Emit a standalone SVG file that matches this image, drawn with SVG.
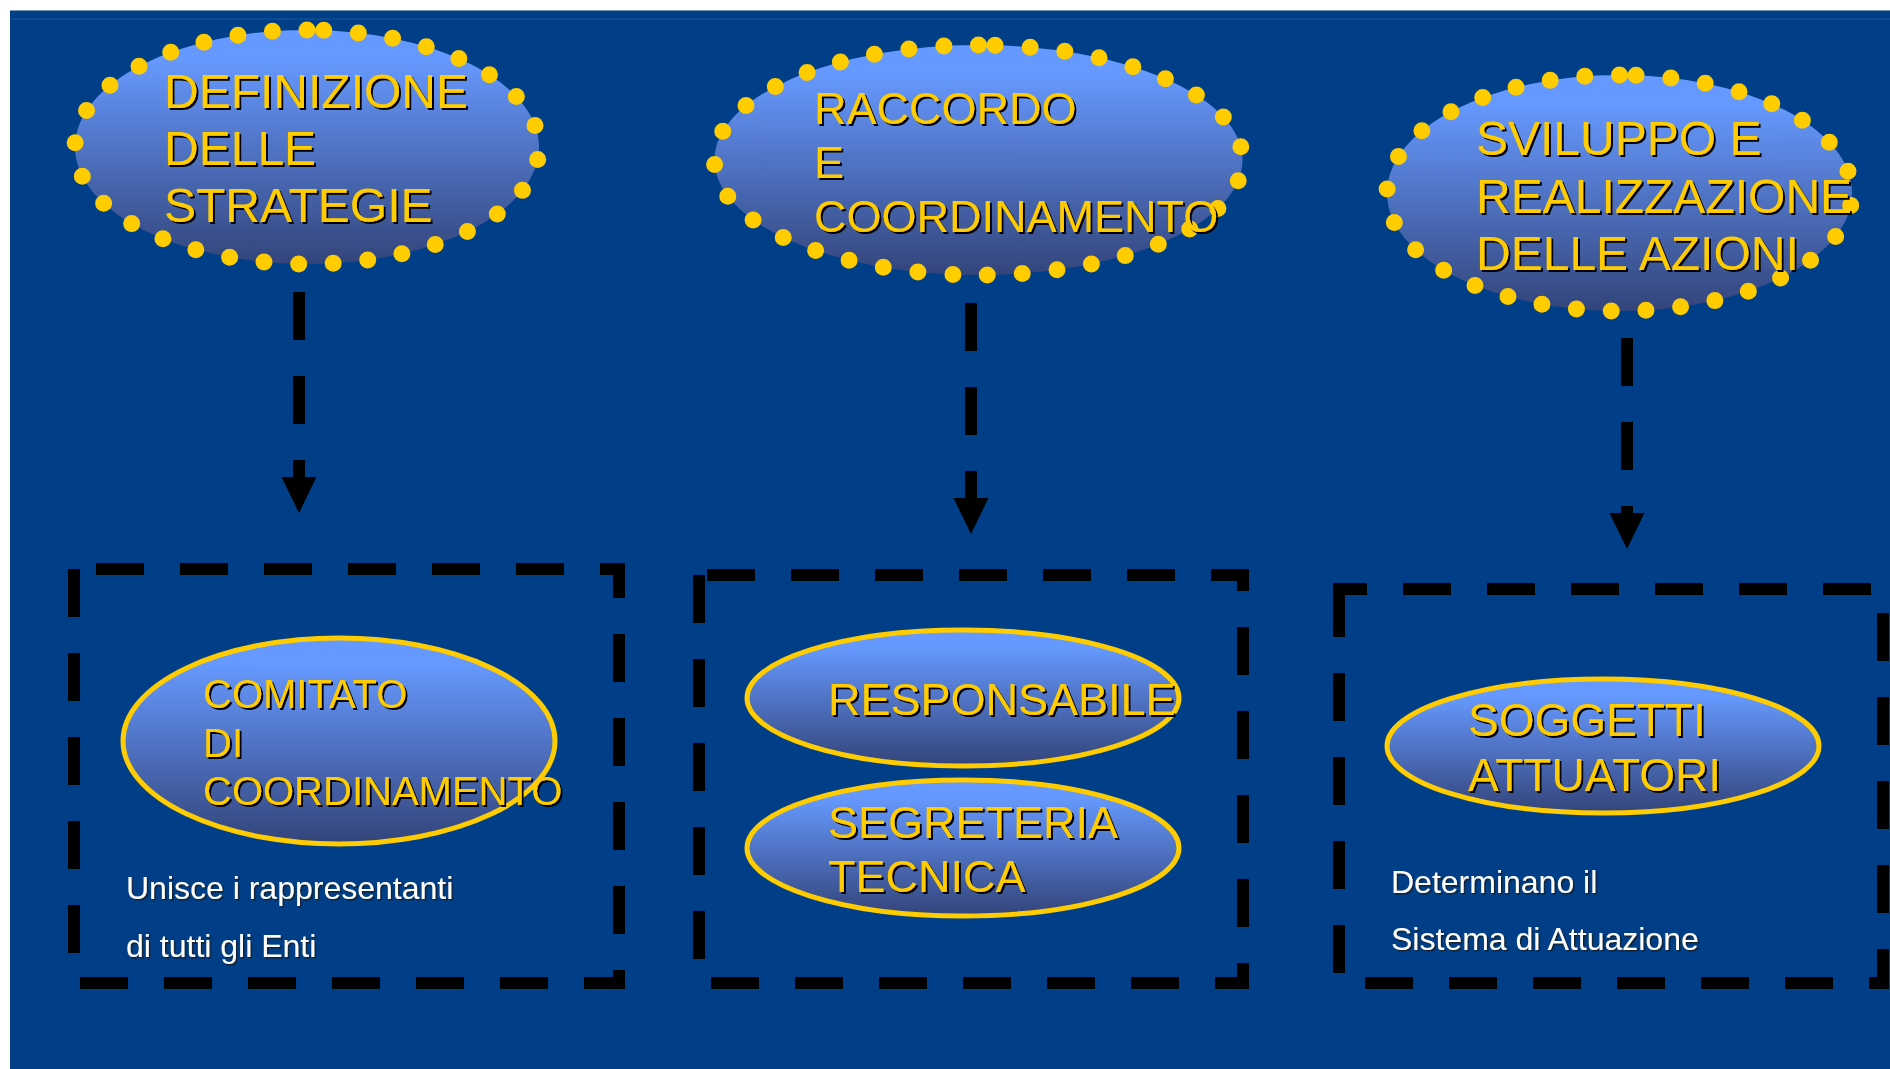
<svg xmlns="http://www.w3.org/2000/svg" width="1890" height="1069" viewBox="0 0 1890 1069">
<defs>
<linearGradient id="g" x1="0" y1="0" x2="0" y2="1">
<stop offset="0" stop-color="#6699FF"/>
<stop offset="0.12" stop-color="#6699FF"/>
<stop offset="1" stop-color="#33447A"/>
</linearGradient>
<filter id="sh" x="-5%" y="-5%" width="110%" height="120%">
<feDropShadow dx="2" dy="2" stdDeviation="0" flood-color="#000" flood-opacity="1"/>
</filter>
<filter id="shw" x="-5%" y="-5%" width="110%" height="130%">
<feDropShadow dx="1.5" dy="1.5" stdDeviation="0.3" flood-color="#1a1a1a" flood-opacity="0.8"/>
</filter>
</defs>
<style>
.bg{fill:#003F87}
.fill{fill:url(#g)}
.dots{fill:none;stroke:#FFCC00;stroke-width:17;stroke-linecap:round}
.ring{fill:url(#g);stroke:#FFCC00;stroke-width:5}
.box{fill:none;stroke:#000;stroke-width:12;stroke-dasharray:48 36;stroke-linejoin:miter}
.conn{fill:none;stroke:#000;stroke-width:12;stroke-dasharray:48 36}
.head{fill:#000}
.yt{font-family:"Liberation Sans",Arial,sans-serif;fill:#FFCC00;filter:url(#sh)}
.wt{font-family:"Liberation Sans",Arial,sans-serif;fill:#FFFFFF;font-size:32px;filter:url(#shw)}
</style>
<rect x="0" y="0" width="1890" height="1069" fill="#FFFFFF"/>
<rect class="bg" x="10" y="10" width="1880" height="1059"/>
<line x1="10" y1="10.5" x2="1890" y2="10.5" stroke="#7C97B6" stroke-width="1"/>
<rect x="10" y="18" width="1880" height="2" fill="#0C4A94"/>

<g id="connectors">
<line class="conn" x1="299" y1="292" x2="299" y2="478"/>
<path class="head" d="M281.5,477 L316.5,477 L299,513 Z"/>
<line class="conn" x1="971" y1="303" x2="971" y2="499"/>
<path class="head" d="M953.5,498 L988.5,498 L971,534 Z"/>
<line class="conn" x1="1627" y1="338" x2="1627" y2="514"/>
<path class="head" d="M1609.5,513 L1644.5,513 L1627,549 Z"/>
</g>

<g id="box-comitato">
<path class="box" d="M74,569 V983 H619 V569 Z"/>
</g>
<g id="box-responsabile">
<path class="box" d="M699,575 V983 H1243 V575 Z"/>
</g>
<g id="box-soggetti">
<path class="box" d="M1339,589 V983 H1883 V589 Z"/>
</g>

<g id="node-definizione">
<ellipse class="fill" cx="307" cy="147" rx="232" ry="117"/>
<path class="dots" stroke-dasharray="0 34.66" d="M307,30 A232,117 0 1,0 307,264 A232,117 0 1,0 307,30"/>
<text class="yt" font-size="48">
<tspan x="164" y="108">DEFINIZIONE</tspan>
<tspan x="164" y="165">DELLE</tspan>
<tspan x="164" y="222">STRATEGIE</tspan>
</text>
</g>

<g id="node-raccordo">
<ellipse class="fill" cx="978.5" cy="160" rx="264" ry="115"/>
<path class="dots" stroke-dasharray="0 34.86" d="M978.5,45 A264,115 0 1,0 978.5,275 A264,115 0 1,0 978.5,45"/>
<text class="yt" font-size="45">
<tspan x="814" y="124">RACCORDO</tspan>
<tspan x="814" y="178">E</tspan>
<tspan x="814" y="232">COORDINAMENTO</tspan>
</text>
</g>

<g id="node-sviluppo">
<ellipse class="fill" cx="1619.5" cy="193" rx="232.5" ry="118"/>
<path class="dots" stroke-dasharray="0 34.8" d="M1619.5,75 A232.5,118 0 1,0 1619.5,311 A232.5,118 0 1,0 1619.5,75"/>
<text class="yt" font-size="48">
<tspan x="1476" y="155">SVILUPPO E</tspan>
<tspan x="1476" y="213">REALIZZAZIONE</tspan>
<tspan x="1476" y="270">DELLE AZIONI</tspan>
</text>
</g>

<g id="node-comitato">
<ellipse class="ring" cx="339" cy="741" rx="216" ry="103"/>
<text class="yt" font-size="40">
<tspan x="203" y="708">COMITATO</tspan>
<tspan x="203" y="757">DI</tspan>
<tspan x="203" y="805">COORDINAMENTO</tspan>
</text>
</g>
<g id="note-comitato">
<text class="wt">
<tspan x="126" y="899">Unisce i rappresentanti</tspan>
<tspan x="126" y="957">di tutti gli Enti</tspan>
</text>
</g>

<g id="node-responsabile">
<ellipse class="ring" cx="963" cy="698" rx="216" ry="68"/>
<text class="yt" font-size="45"><tspan x="828" y="715">RESPONSABILE</tspan></text>
</g>

<g id="node-segreteria">
<ellipse class="ring" cx="963" cy="848" rx="216" ry="68"/>
<text class="yt" font-size="45">
<tspan x="828" y="838">SEGRETERIA</tspan>
<tspan x="828" y="892">TECNICA</tspan>
</text>
</g>

<g id="node-soggetti">
<ellipse class="ring" cx="1603" cy="746" rx="216" ry="67"/>
<text class="yt" font-size="46">
<tspan x="1468" y="736">SOGGETTI</tspan>
<tspan x="1468" y="791">ATTUATORI</tspan>
</text>
</g>
<g id="note-soggetti">
<text class="wt">
<tspan x="1391" y="893">Determinano il</tspan>
<tspan x="1391" y="950">Sistema di Attuazione</tspan>
</text>
</g>
</svg>
